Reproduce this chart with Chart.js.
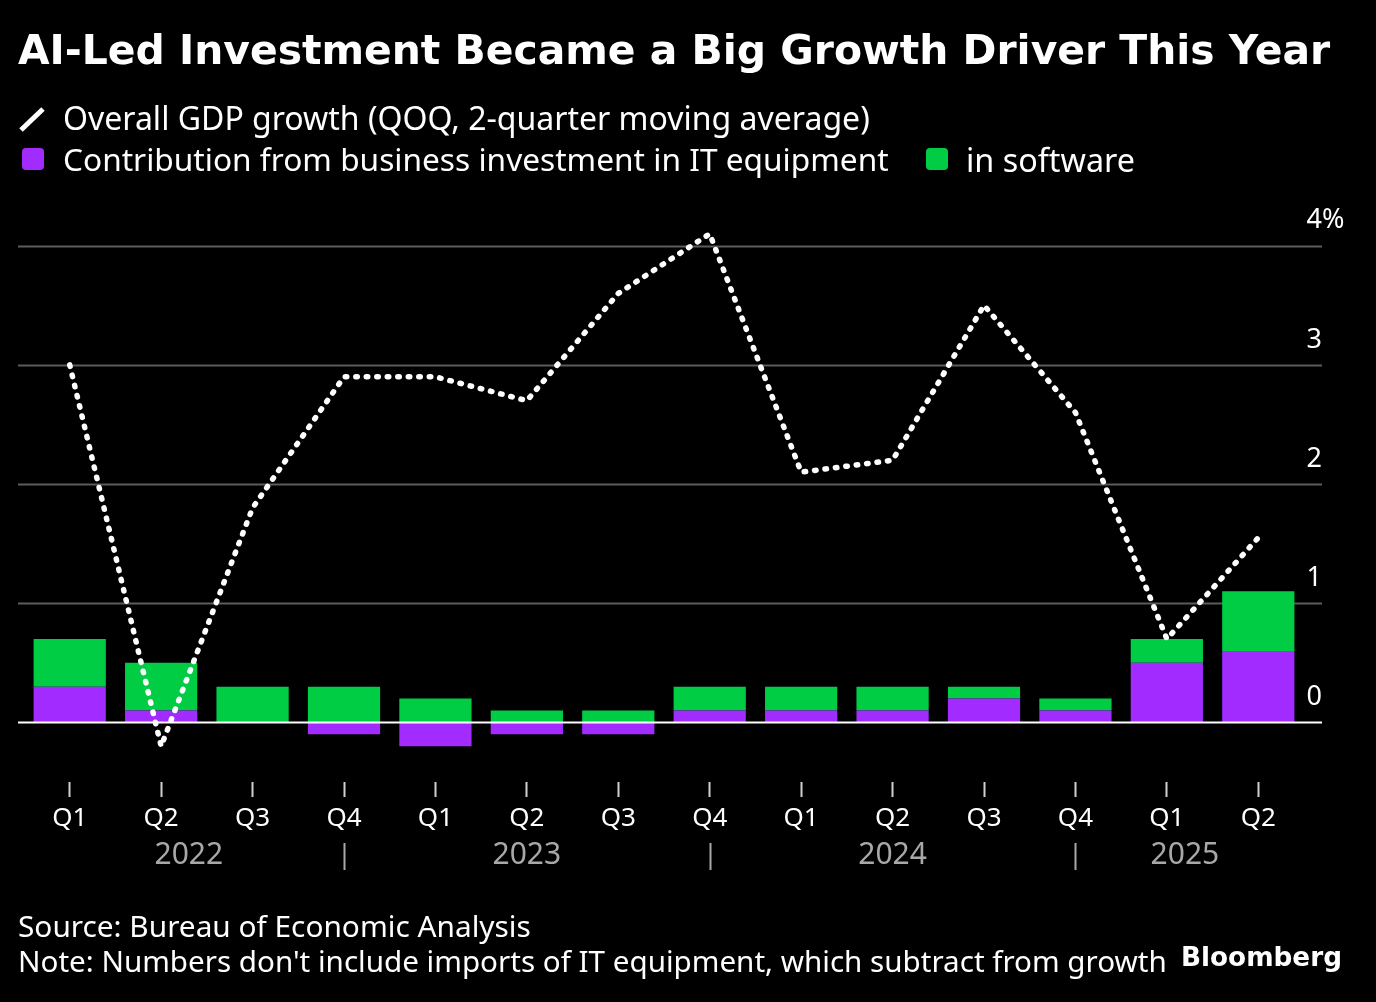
<!DOCTYPE html>
<html>
<head>
<meta charset="utf-8">
<script src="https://cdn.jsdelivr.net/npm/chart.js@4"></script>
<style>
  html, body { margin:0; padding:0; background:#000; width:1376px; height:1002px; overflow:hidden; }
  #wrap { position:relative; width:1376px; height:1002px; }
  canvas { position:absolute; left:0; top:0; }
  .t { position:absolute; color:#fff; white-space:nowrap; font-family:"Noto Sans", sans-serif; line-height:1; transform:translateY(-50%); }
  #title { font-family:"DejaVu Sans", sans-serif; font-weight:bold; }
  #bbg { font-family:"DejaVu Sans", sans-serif; font-weight:bold; }
  .sw { position:absolute; width:22px; height:22px; border-radius:4px; }
</style>
</head>
<body>
<div id="wrap">
  <canvas id="c" width="1376" height="1002"></canvas>
  <div class="t" id="title" data-w="1312" style="left:18px;top:50px;font-size:40px">AI-Led Investment Became a Big Growth Driver This Year</div>
  <svg style="position:absolute;left:18px;top:106px" width="30" height="28"><line x1="3" y1="24" x2="25" y2="3" stroke="#fff" stroke-width="5"/></svg>
  <div class="t" data-w="807" style="left:63px;top:118px;font-size:32px">Overall GDP growth (QOQ, 2-quarter moving average)</div>
  <div class="sw" style="left:22px;top:148px;background:#a22bff"></div>
  <div class="t" data-w="826" style="left:63px;top:159px;font-size:32px">Contribution from business investment in IT equipment</div>
  <div class="sw" style="left:926px;top:148px;background:#00cc44"></div>
  <div class="t" data-w="169" style="left:966px;top:159px;font-size:32px">in software</div>
  <div class="t" data-w="513" style="left:18px;top:926px;font-size:30px">Source: Bureau of Economic Analysis</div>
  <div class="t" data-w="1149" style="left:18px;top:961px;font-size:30px">Note: Numbers don't include imports of IT equipment, which subtract from growth</div>
  <div class="t" id="bbg" data-w="161" style="left:1181px;top:957px;font-size:27px">Bloomberg</div>
</div>
<script>
function fitTexts() {
  document.querySelectorAll('[data-w]').forEach(el => {
    const target = parseFloat(el.getAttribute('data-w'));
    const size = parseFloat(el.style.fontSize);
    const w = el.getBoundingClientRect().width;
    if (w > 0) el.style.fontSize = (size * target / w).toFixed(2) + 'px';
  });
}
fitTexts();

const quarters = ['Q1','Q2','Q3','Q4','Q1','Q2','Q3','Q4','Q1','Q2','Q3','Q4','Q1','Q2'];
const years = ['2022','2023','2024','2025'];
const yearStartIndex = [0, 4, 8, 12];
const gdpGrowth = [3.0, -0.2, 1.8, 2.9, 2.9, 2.7, 3.6, 4.1, 2.1, 2.2, 3.5, 2.6, 0.7, 1.55];
const itEquipment = [0.3, 0.1, 0.0, -0.1, -0.2, -0.1, -0.1, 0.1, 0.1, 0.1, 0.2, 0.1, 0.5, 0.6];
const software = [0.4, 0.4, 0.3, 0.3, 0.2, 0.1, 0.1, 0.2, 0.2, 0.2, 0.1, 0.1, 0.2, 0.5];
const yTicks = [0, 1, 2, 3, 4];

const FONT = '"Noto Sans", sans-serif';
const PURPLE = '#a22bff';
const GREEN = '#00cc44';

const overlay = {
  id: 'overlay',
  beforeDatasetsDraw(chart) {
    const ctx = chart.ctx, y = chart.scales.y;
    ctx.save();
    ctx.lineWidth = 2;
    ctx.strokeStyle = '#5c5c5c';
    yTicks.forEach(v => {
      if (v === 0) return;
      const py = Math.round(y.getPixelForValue(v)) + 0.5;
      ctx.beginPath(); ctx.moveTo(18, py); ctx.lineTo(1322, py); ctx.stroke();
    });
    ctx.restore();
  },
  afterDatasetDraw(chart, args) {
    if (args.index !== 1) return;
    const ctx = chart.ctx, y = chart.scales.y;
    ctx.save();
    ctx.lineWidth = 2;
    ctx.strokeStyle = '#ffffff';
    const py = Math.round(y.getPixelForValue(0)) + 0.5;
    ctx.beginPath(); ctx.moveTo(18, py); ctx.lineTo(1322, py); ctx.stroke();
    ctx.restore();
  },
  afterDraw(chart) {
    const ctx = chart.ctx, y = chart.scales.y, x = chart.scales.x;
    ctx.save();
    ctx.font = '27px ' + FONT;
    ctx.fillStyle = '#fff';
    ctx.textBaseline = 'middle';
    yTicks.forEach(v => {
      const py = y.getPixelForValue(v) - 25;
      ctx.textAlign = 'right';
      ctx.fillText(String(v), 1322, py);
      if (v === yTicks[yTicks.length - 1]) {
        ctx.textAlign = 'left';
        ctx.fillText('%', 1322, py);
      }
    });
    const bars = chart.getDatasetMeta(1).data;
    const half = bars[0].width / 2;
    ctx.font = '30px ' + FONT;
    ctx.fillStyle = '#a8a8a8';
    ctx.strokeStyle = '#a8a8a8';
    ctx.lineWidth = 2;
    ctx.textAlign = 'center';
    years.forEach((yr, k) => {
      const s = yearStartIndex[k];
      const last = k + 1 >= yearStartIndex.length;
      const e = last ? quarters.length - 1 : yearStartIndex[k + 1] - 1;
      const left = k === 0 ? bars[s].x - half : x.getPixelForValue(s - 1);
      const right = last ? bars[e].x + half : x.getPixelForValue(e);
      ctx.fillText(yr, (left + right) / 2, 855);
      if (!last) {
        const sx = Math.round(x.getPixelForValue(e)) + 0.5;
        ctx.beginPath(); ctx.moveTo(sx, 843); ctx.lineTo(sx, 870); ctx.stroke();
      }
    });
    ctx.restore();
  }
};

new Chart(document.getElementById('c'), {
  type: 'bar',
  data: {
    labels: quarters,
    datasets: [
      { type: 'line', label: 'Overall GDP growth', data: gdpGrowth, order: 0,
        borderColor: '#ffffff', borderWidth: 5.5, borderDash: [1.5, 9], borderCapStyle: 'round',
        borderJoinStyle: 'round', pointRadius: 0, tension: 0, fill: false },
      { label: 'IT equipment', data: itEquipment, backgroundColor: PURPLE, order: 1, stack: 's',
        barPercentage: 0.79, categoryPercentage: 1.0 },
      { label: 'software', data: software, backgroundColor: GREEN, order: 2, stack: 's',
        barPercentage: 0.79, categoryPercentage: 1.0 }
    ]
  },
  options: {
    responsive: false,
    animation: false,
    devicePixelRatio: 1,
    layout: { padding: { left: 24, right: 72, top: 210, bottom: 0 } },
    plugins: { legend: { display: false }, tooltip: { enabled: false } },
    scales: {
      x: {
        stacked: true,
        offset: true,
        afterFit: s => { s.height = 220; },
        border: { display: false },
        grid: { display: true, offset: false, drawOnChartArea: false, drawTicks: true, tickLength: 15, tickWidth: 2, color: '#d0d0d0' },
        ticks: { color: '#ffffff', font: { family: FONT, size: 26 }, padding: 6, maxRotation: 0, autoSkip: false }
      },
      y: {
        display: false,
        stacked: true,
        min: -0.5,
        max: 4.3
      }
    }
  },
  plugins: [overlay]
});
</script>
</body>
</html>
